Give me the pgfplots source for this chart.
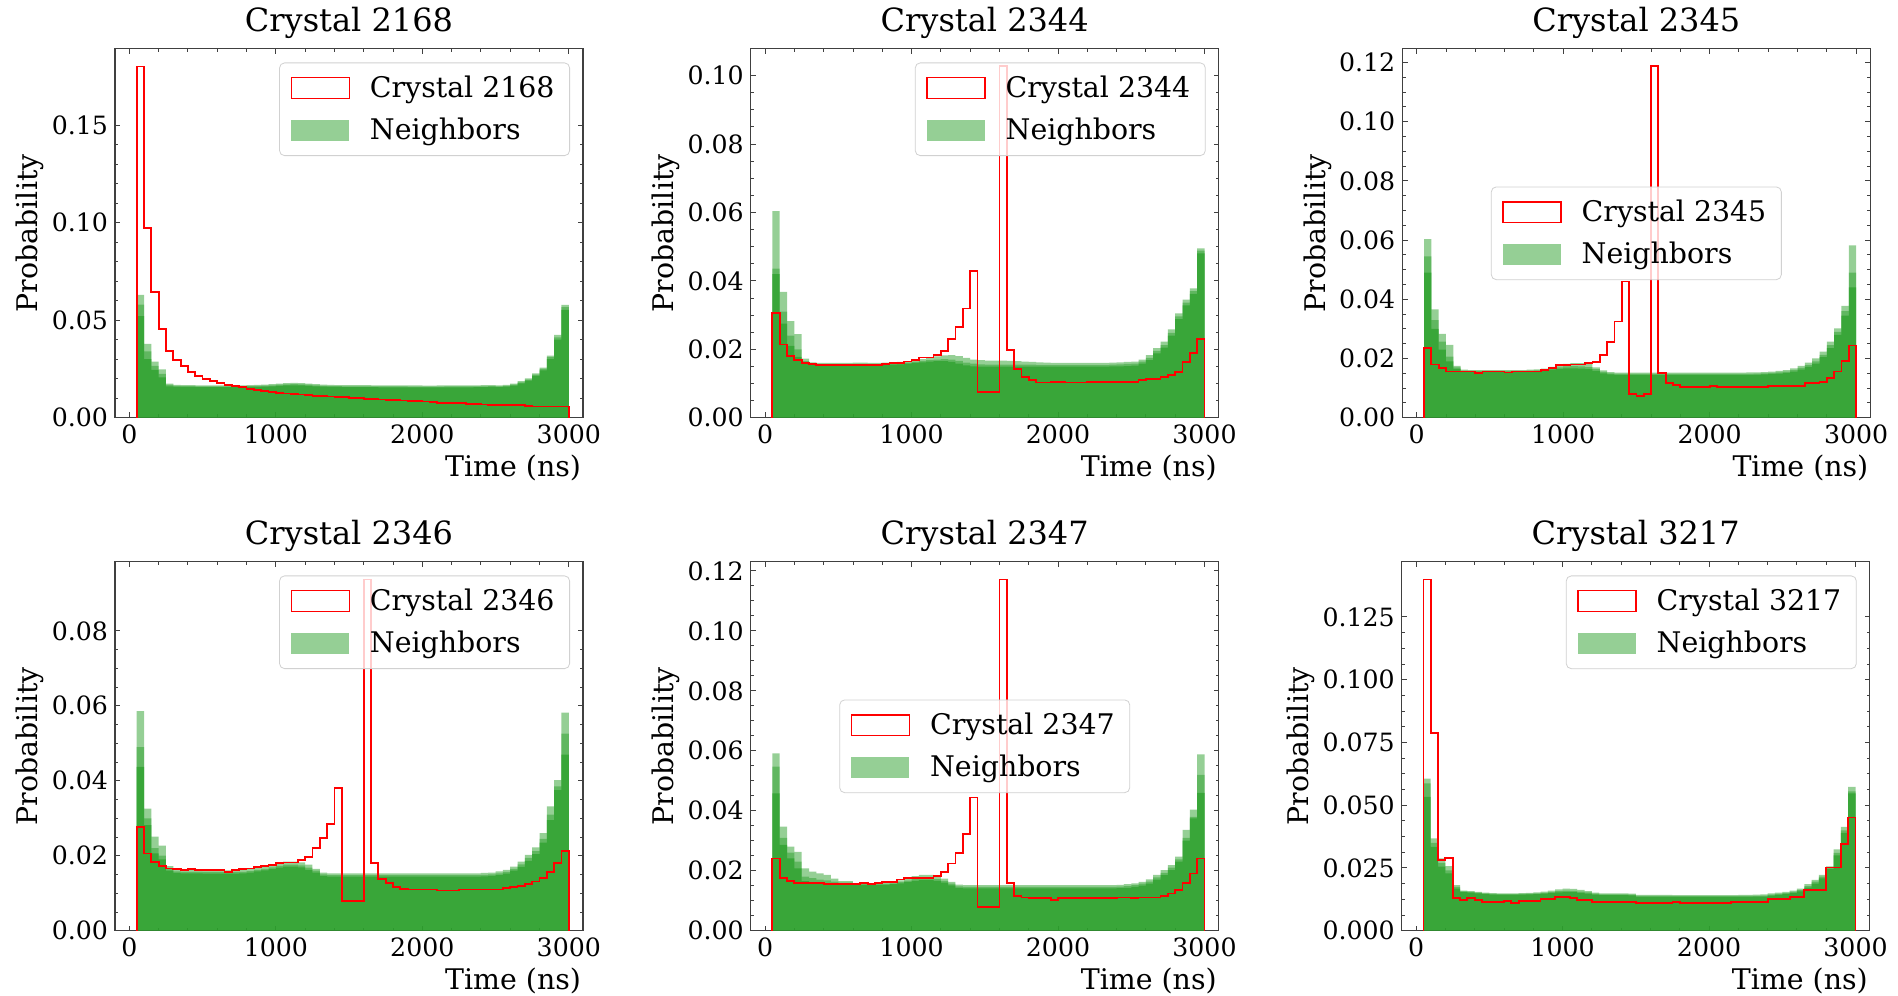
\documentclass[border=0pt]{standalone}
\usepackage{fontspec}
\setmainfont{DejaVu Serif}
\usepackage{pgfplots}
\usepackage{pgfplotstable}
\pgfplotsset{compat=1.18}

\definecolor{nbr}{HTML}{2CA02C}
\definecolor{spine}{gray}{0.25}
\newcommand\tickfont{\fontsize{12.6}{15}\selectfont}
\newcommand\labelfont{\fontsize{14.2}{17}\selectfont}
\newcommand\titlefont{\fontsize{16}{19}\selectfont}

% columns: bin left edge (ns), crystal, three neighbour histograms (top, middle, base)
\pgfplotstableread{
t r a b c
50 0 0 0 0
50 0.1800 0.0630 0.0580 0.0520
100 0.0971 0.0378 0.0340 0.0300
150 0.0644 0.0287 0.0265 0.0245
200 0.0453 0.0248 0.0225 0.0207
250 0.0343 0.0175 0.0168 0.0160
300 0.0296 0.0168 0.0163 0.0158
350 0.0265 0.0167 0.0162 0.0157
400 0.0236 0.0167 0.0162 0.0157
450 0.0214 0.0166 0.0161 0.0157
500 0.0200 0.0166 0.0161 0.0157
550 0.0188 0.0166 0.0161 0.0157
600 0.0177 0.0166 0.0161 0.0157
650 0.0168 0.0166 0.0161 0.0157
700 0.0161 0.0166 0.0161 0.0157
750 0.0156 0.0166 0.0161 0.0157
800 0.0147 0.0167 0.0162 0.0158
850 0.0142 0.0168 0.0163 0.0158
900 0.0138 0.0170 0.0164 0.0159
950 0.0133 0.0172 0.0166 0.0160
1000 0.0128 0.0175 0.0169 0.0163
1050 0.0124 0.0177 0.0171 0.0165
1100 0.0121 0.0178 0.0172 0.0166
1150 0.0119 0.0177 0.0171 0.0165
1200 0.0116 0.0175 0.0169 0.0163
1250 0.0113 0.0172 0.0166 0.0161
1300 0.0111 0.0169 0.0163 0.0159
1350 0.0109 0.0168 0.0162 0.0158
1400 0.0106 0.0167 0.0162 0.0158
1450 0.0104 0.0167 0.0161 0.0157
1500 0.0100 0.0167 0.0161 0.0157
1550 0.0099 0.0167 0.0161 0.0157
1600 0.0097 0.0167 0.0161 0.0157
1650 0.0095 0.0166 0.0161 0.0157
1700 0.0093 0.0166 0.0160 0.0156
1750 0.0092 0.0166 0.0160 0.0156
1800 0.0090 0.0165 0.0160 0.0156
1850 0.0088 0.0165 0.0160 0.0156
1900 0.0086 0.0165 0.0159 0.0155
1950 0.0085 0.0165 0.0159 0.0155
2000 0.0083 0.0164 0.0159 0.0155
2050 0.0079 0.0164 0.0159 0.0155
2100 0.0077 0.0165 0.0159 0.0155
2150 0.0076 0.0165 0.0160 0.0155
2200 0.0075 0.0165 0.0160 0.0156
2250 0.0074 0.0166 0.0160 0.0156
2300 0.0070 0.0166 0.0161 0.0156
2350 0.0069 0.0166 0.0161 0.0157
2400 0.0068 0.0167 0.0161 0.0157
2450 0.0067 0.0167 0.0162 0.0158
2500 0.0066 0.0166 0.0161 0.0157
2550 0.0066 0.0168 0.0163 0.0159
2600 0.0065 0.0174 0.0169 0.0164
2650 0.0065 0.0187 0.0181 0.0176
2700 0.0058 0.0201 0.0195 0.0190
2750 0.0057 0.0227 0.0221 0.0214
2800 0.0057 0.0257 0.0250 0.0242
2850 0.0057 0.0318 0.0310 0.0300
2900 0.0057 0.0425 0.0412 0.0400
2950 0.0057 0.0578 0.0566 0.0553
3000 0.0057 0.0578 0.0566 0.0553
3000 0 0 0 0
}\tA

\pgfplotstableread{
t r a b c
50 0 0 0 0
50 0.0307 0.0604 0.0436 0.0420
100 0.0214 0.0368 0.0310 0.0275
150 0.0180 0.0282 0.0240 0.0210
200 0.0168 0.0244 0.0200 0.0178
250 0.0159 0.0173 0.0165 0.0160
300 0.0156 0.0162 0.0158 0.0154
350 0.0154 0.0160 0.0156 0.0153
400 0.0154 0.0160 0.0156 0.0153
450 0.0154 0.0160 0.0156 0.0153
500 0.0154 0.0160 0.0156 0.0153
550 0.0154 0.0160 0.0156 0.0153
600 0.0154 0.0161 0.0157 0.0153
650 0.0154 0.0161 0.0157 0.0153
700 0.0153 0.0160 0.0156 0.0153
750 0.0154 0.0160 0.0156 0.0153
800 0.0156 0.0161 0.0157 0.0154
850 0.0159 0.0162 0.0158 0.0155
900 0.0159 0.0163 0.0159 0.0156
950 0.0164 0.0165 0.0161 0.0158
1000 0.0168 0.0168 0.0163 0.0160
1050 0.0176 0.0171 0.0166 0.0162
1100 0.0176 0.0175 0.0168 0.0164
1150 0.0183 0.0179 0.0170 0.0165
1200 0.0196 0.0182 0.0171 0.0165
1250 0.0229 0.0183 0.0170 0.0163
1300 0.0264 0.0180 0.0166 0.0158
1350 0.0319 0.0175 0.0161 0.0153
1400 0.0428 0.0170 0.0158 0.0150
1450 0.0076 0.0168 0.0156 0.0149
1500 0.0076 0.0167 0.0155 0.0149
1550 0.0076 0.0167 0.0155 0.0149
1600 0.1027 0.0167 0.0155 0.0149
1650 0.0198 0.0166 0.0155 0.0149
1700 0.0142 0.0165 0.0155 0.0149
1750 0.0120 0.0164 0.0155 0.0149
1800 0.0110 0.0163 0.0155 0.0149
1850 0.0103 0.0162 0.0154 0.0149
1900 0.0103 0.0161 0.0154 0.0149
1950 0.0105 0.0160 0.0154 0.0149
2000 0.0105 0.0160 0.0154 0.0149
2050 0.0103 0.0160 0.0154 0.0149
2100 0.0103 0.0160 0.0154 0.0149
2150 0.0103 0.0160 0.0154 0.0149
2200 0.0105 0.0160 0.0154 0.0149
2250 0.0105 0.0160 0.0154 0.0149
2300 0.0105 0.0160 0.0154 0.0149
2350 0.0105 0.0161 0.0155 0.0150
2400 0.0105 0.0162 0.0156 0.0150
2450 0.0105 0.0163 0.0157 0.0151
2500 0.0105 0.0164 0.0158 0.0152
2550 0.0110 0.0170 0.0164 0.0158
2600 0.0113 0.0183 0.0175 0.0168
2650 0.0113 0.0203 0.0195 0.0188
2700 0.0120 0.0222 0.0212 0.0205
2750 0.0125 0.0258 0.0248 0.0240
2800 0.0134 0.0305 0.0296 0.0288
2850 0.0162 0.0345 0.0336 0.0328
2900 0.0188 0.0378 0.0370 0.0362
2950 0.0229 0.0495 0.0488 0.0480
3000 0.0229 0.0495 0.0488 0.0480
3000 0 0 0 0
}\tB

\pgfplotstableread{
t r a b c
50 0 0 0 0
50 0.0235 0.0603 0.0545 0.0490
100 0.0180 0.0366 0.0330 0.0300
150 0.0167 0.0283 0.0257 0.0230
200 0.0156 0.0246 0.0206 0.0190
250 0.0156 0.0175 0.0170 0.0165
300 0.0156 0.0162 0.0159 0.0155
350 0.0156 0.0161 0.0158 0.0155
400 0.0152 0.0161 0.0158 0.0155
450 0.0156 0.0161 0.0158 0.0155
500 0.0156 0.0161 0.0158 0.0155
550 0.0156 0.0161 0.0158 0.0155
600 0.0153 0.0161 0.0158 0.0155
650 0.0156 0.0161 0.0158 0.0155
700 0.0156 0.0161 0.0158 0.0155
750 0.0156 0.0162 0.0159 0.0156
800 0.0156 0.0163 0.0160 0.0157
850 0.0161 0.0166 0.0162 0.0159
900 0.0169 0.0172 0.0166 0.0162
950 0.0178 0.0178 0.0170 0.0165
1000 0.0178 0.0182 0.0173 0.0167
1050 0.0180 0.0184 0.0174 0.0167
1100 0.0180 0.0184 0.0173 0.0166
1150 0.0184 0.0182 0.0171 0.0164
1200 0.0189 0.0170 0.0164 0.0158
1250 0.0212 0.0160 0.0155 0.0150
1300 0.0257 0.0154 0.0150 0.0146
1350 0.0325 0.0152 0.0148 0.0144
1400 0.0460 0.0152 0.0148 0.0144
1450 0.0080 0.0152 0.0148 0.0144
1500 0.0073 0.0152 0.0148 0.0144
1550 0.0079 0.0152 0.0148 0.0144
1600 0.1187 0.0152 0.0148 0.0144
1650 0.0150 0.0152 0.0148 0.0144
1700 0.0116 0.0152 0.0148 0.0144
1750 0.0110 0.0152 0.0148 0.0144
1800 0.0105 0.0152 0.0148 0.0144
1850 0.0105 0.0152 0.0148 0.0144
1900 0.0105 0.0152 0.0148 0.0144
1950 0.0105 0.0152 0.0148 0.0144
2000 0.0108 0.0152 0.0148 0.0144
2050 0.0105 0.0152 0.0148 0.0144
2100 0.0105 0.0152 0.0148 0.0144
2150 0.0105 0.0152 0.0148 0.0144
2200 0.0105 0.0152 0.0148 0.0144
2250 0.0105 0.0153 0.0148 0.0144
2300 0.0105 0.0153 0.0149 0.0145
2350 0.0105 0.0154 0.0150 0.0146
2400 0.0108 0.0156 0.0151 0.0147
2450 0.0108 0.0158 0.0153 0.0149
2500 0.0108 0.0161 0.0156 0.0151
2550 0.0108 0.0167 0.0161 0.0156
2600 0.0108 0.0175 0.0168 0.0162
2650 0.0116 0.0186 0.0178 0.0172
2700 0.0116 0.0200 0.0190 0.0183
2750 0.0120 0.0223 0.0212 0.0205
2800 0.0133 0.0257 0.0245 0.0235
2850 0.0156 0.0302 0.0290 0.0280
2900 0.0192 0.0378 0.0360 0.0345
2950 0.0244 0.0582 0.0490 0.0440
3000 0.0244 0.0582 0.0490 0.0440
3000 0 0 0 0
}\tC

\pgfplotstableread{
t r a b c
50 0 0 0 0
50 0.0277 0.0586 0.0490 0.0437
100 0.0206 0.0326 0.0300 0.0282
150 0.0184 0.0251 0.0220 0.0206
200 0.0172 0.0227 0.0200 0.0190
250 0.0166 0.0172 0.0165 0.0160
300 0.0164 0.0163 0.0158 0.0154
350 0.0162 0.0162 0.0157 0.0153
400 0.0164 0.0162 0.0157 0.0153
450 0.0162 0.0162 0.0157 0.0153
500 0.0162 0.0161 0.0156 0.0152
550 0.0162 0.0161 0.0156 0.0152
600 0.0162 0.0161 0.0156 0.0152
650 0.0157 0.0161 0.0156 0.0152
700 0.0162 0.0161 0.0156 0.0152
750 0.0164 0.0162 0.0157 0.0153
800 0.0166 0.0164 0.0159 0.0155
850 0.0171 0.0167 0.0162 0.0158
900 0.0173 0.0171 0.0165 0.0161
950 0.0175 0.0176 0.0169 0.0164
1000 0.0180 0.0181 0.0173 0.0168
1050 0.0182 0.0184 0.0176 0.0171
1100 0.0182 0.0184 0.0176 0.0171
1150 0.0188 0.0182 0.0174 0.0169
1200 0.0197 0.0176 0.0168 0.0162
1250 0.0220 0.0165 0.0160 0.0155
1300 0.0248 0.0155 0.0150 0.0146
1350 0.0284 0.0153 0.0148 0.0144
1400 0.0380 0.0153 0.0148 0.0144
1450 0.0080 0.0153 0.0148 0.0144
1500 0.0080 0.0153 0.0148 0.0144
1550 0.0080 0.0153 0.0148 0.0144
1600 0.0937 0.0153 0.0148 0.0144
1650 0.0181 0.0153 0.0148 0.0144
1700 0.0137 0.0153 0.0148 0.0144
1750 0.0128 0.0153 0.0148 0.0144
1800 0.0117 0.0153 0.0148 0.0144
1850 0.0111 0.0153 0.0148 0.0144
1900 0.0110 0.0153 0.0148 0.0144
1950 0.0110 0.0153 0.0148 0.0144
2000 0.0110 0.0153 0.0148 0.0144
2050 0.0110 0.0153 0.0148 0.0144
2100 0.0107 0.0153 0.0148 0.0144
2150 0.0107 0.0153 0.0148 0.0144
2200 0.0107 0.0153 0.0148 0.0144
2250 0.0110 0.0153 0.0148 0.0144
2300 0.0110 0.0153 0.0148 0.0144
2350 0.0110 0.0153 0.0148 0.0144
2400 0.0110 0.0154 0.0149 0.0145
2450 0.0110 0.0155 0.0150 0.0146
2500 0.0110 0.0158 0.0153 0.0148
2550 0.0113 0.0162 0.0157 0.0152
2600 0.0117 0.0171 0.0165 0.0160
2650 0.0120 0.0184 0.0177 0.0170
2700 0.0124 0.0202 0.0194 0.0186
2750 0.0131 0.0222 0.0212 0.0204
2800 0.0140 0.0260 0.0245 0.0235
2850 0.0157 0.0332 0.0310 0.0295
2900 0.0180 0.0402 0.0385 0.0375
2950 0.0212 0.0582 0.0526 0.0470
3000 0.0212 0.0582 0.0526 0.0470
3000 0 0 0 0
}\tD

\pgfplotstableread{
t r a b c
50 0 0 0 0
50 0.0241 0.0591 0.0547 0.0458
100 0.0177 0.0347 0.0310 0.0286
150 0.0167 0.0280 0.0260 0.0241
200 0.0160 0.0263 0.0230 0.0208
250 0.0160 0.0208 0.0180 0.0165
300 0.0160 0.0197 0.0175 0.0162
350 0.0160 0.0191 0.0170 0.0160
400 0.0156 0.0186 0.0168 0.0158
450 0.0156 0.0174 0.0164 0.0156
500 0.0156 0.0165 0.0160 0.0155
550 0.0156 0.0165 0.0160 0.0155
600 0.0156 0.0158 0.0155 0.0152
650 0.0160 0.0158 0.0155 0.0152
700 0.0156 0.0158 0.0155 0.0152
750 0.0160 0.0158 0.0155 0.0152
800 0.0163 0.0160 0.0156 0.0153
850 0.0163 0.0163 0.0158 0.0155
900 0.0171 0.0168 0.0162 0.0158
950 0.0177 0.0175 0.0167 0.0162
1000 0.0177 0.0182 0.0172 0.0166
1050 0.0177 0.0186 0.0175 0.0169
1100 0.0177 0.0186 0.0175 0.0169
1150 0.0182 0.0182 0.0172 0.0166
1200 0.0197 0.0174 0.0166 0.0160
1250 0.0224 0.0163 0.0157 0.0151
1300 0.0258 0.0154 0.0148 0.0143
1350 0.0322 0.0152 0.0146 0.0141
1400 0.0444 0.0152 0.0146 0.0141
1450 0.0078 0.0152 0.0146 0.0141
1500 0.0078 0.0152 0.0146 0.0141
1550 0.0078 0.0152 0.0146 0.0141
1600 0.1171 0.0152 0.0146 0.0141
1650 0.0160 0.0152 0.0146 0.0141
1700 0.0116 0.0152 0.0146 0.0141
1750 0.0111 0.0152 0.0146 0.0141
1800 0.0108 0.0152 0.0146 0.0141
1850 0.0108 0.0152 0.0146 0.0141
1900 0.0108 0.0152 0.0146 0.0141
1950 0.0102 0.0152 0.0146 0.0141
2000 0.0108 0.0152 0.0146 0.0141
2050 0.0108 0.0152 0.0146 0.0141
2100 0.0108 0.0152 0.0146 0.0141
2150 0.0108 0.0152 0.0146 0.0141
2200 0.0108 0.0152 0.0146 0.0141
2250 0.0108 0.0152 0.0146 0.0141
2300 0.0108 0.0152 0.0146 0.0141
2350 0.0108 0.0152 0.0146 0.0141
2400 0.0111 0.0153 0.0147 0.0142
2450 0.0111 0.0155 0.0149 0.0143
2500 0.0108 0.0158 0.0152 0.0146
2550 0.0111 0.0163 0.0157 0.0150
2600 0.0111 0.0171 0.0164 0.0157
2650 0.0111 0.0186 0.0178 0.0170
2700 0.0116 0.0202 0.0193 0.0185
2750 0.0124 0.0219 0.0210 0.0202
2800 0.0136 0.0247 0.0238 0.0230
2850 0.0158 0.0336 0.0310 0.0300
2900 0.0191 0.0404 0.0380 0.0375
2950 0.0241 0.0588 0.0520 0.0460
3000 0.0241 0.0588 0.0520 0.0460
3000 0 0 0 0
}\tE

\pgfplotstableread{
t r a b c
50 0 0 0 0
50 0.1399 0.0606 0.0587 0.0533
100 0.0788 0.0368 0.0350 0.0334
150 0.0281 0.0288 0.0270 0.0255
200 0.0288 0.0257 0.0240 0.0228
250 0.0129 0.0182 0.0175 0.0168
300 0.0122 0.0160 0.0157 0.0154
350 0.0129 0.0158 0.0155 0.0152
400 0.0122 0.0155 0.0152 0.0149
450 0.0115 0.0152 0.0149 0.0146
500 0.0115 0.0150 0.0147 0.0144
550 0.0115 0.0149 0.0146 0.0143
600 0.0119 0.0149 0.0146 0.0143
650 0.0111 0.0149 0.0146 0.0143
700 0.0119 0.0150 0.0147 0.0144
750 0.0119 0.0151 0.0148 0.0145
800 0.0119 0.0153 0.0149 0.0146
850 0.0125 0.0156 0.0151 0.0148
900 0.0125 0.0160 0.0154 0.0150
950 0.0135 0.0165 0.0158 0.0153
1000 0.0135 0.0168 0.0160 0.0155
1050 0.0129 0.0167 0.0159 0.0154
1100 0.0122 0.0163 0.0156 0.0151
1150 0.0122 0.0158 0.0153 0.0148
1200 0.0115 0.0152 0.0148 0.0144
1250 0.0115 0.0149 0.0145 0.0142
1300 0.0115 0.0149 0.0145 0.0142
1350 0.0115 0.0149 0.0145 0.0142
1400 0.0115 0.0149 0.0145 0.0142
1450 0.0115 0.0148 0.0144 0.0141
1500 0.0109 0.0143 0.0139 0.0135
1550 0.0109 0.0143 0.0139 0.0135
1600 0.0109 0.0143 0.0139 0.0135
1650 0.0109 0.0143 0.0139 0.0135
1700 0.0109 0.0143 0.0139 0.0135
1750 0.0113 0.0142 0.0138 0.0135
1800 0.0109 0.0142 0.0138 0.0135
1850 0.0109 0.0142 0.0138 0.0135
1900 0.0109 0.0142 0.0138 0.0135
1950 0.0109 0.0142 0.0138 0.0135
2000 0.0109 0.0142 0.0138 0.0135
2050 0.0109 0.0142 0.0138 0.0135
2100 0.0109 0.0142 0.0138 0.0135
2150 0.0113 0.0142 0.0138 0.0135
2200 0.0113 0.0143 0.0139 0.0135
2250 0.0113 0.0143 0.0139 0.0135
2300 0.0113 0.0144 0.0139 0.0136
2350 0.0113 0.0145 0.0140 0.0136
2400 0.0125 0.0149 0.0144 0.0140
2450 0.0125 0.0152 0.0147 0.0143
2500 0.0125 0.0155 0.0150 0.0146
2550 0.0135 0.0160 0.0155 0.0150
2600 0.0135 0.0168 0.0162 0.0157
2650 0.0162 0.0186 0.0178 0.0172
2700 0.0162 0.0202 0.0195 0.0188
2750 0.0162 0.0222 0.0215 0.0208
2800 0.0252 0.0256 0.0250 0.0245
2850 0.0252 0.0324 0.0310 0.0300
2900 0.0345 0.0414 0.0400 0.0390
2950 0.0451 0.0573 0.0555 0.0547
3000 0.0451 0.0573 0.0555 0.0547
3000 0 0 0 0
}\tF

\pgfplotsset{
  panel/.style={
    scale only axis, width=234pt, height=184.4pt,
    xmin=-98, xmax=3097, ymin=0,
    xtick={0,1000,2000,3000}, minor x tick num=4,
    tick align=inside, xtick pos=both, ytick pos=both,
    major tick length=2.6pt, minor tick length=1.6pt,
    every tick/.append style={spine, line width=0.45pt},
    axis line style={spine, line width=0.6pt},
    scaled x ticks=false, scaled y ticks=false,
    /pgf/number format/assume math mode=true,
    tick label style={font=\tickfont},
    xticklabel style={/pgf/number format/1000 sep={}},
    yticklabel style={/pgf/number format/fixed, /pgf/number format/fixed zerofill, /pgf/number format/precision=2},
    title style={font=\titlefont, anchor=base, yshift=2.7pt},
    xlabel={Time (ns)}, ylabel={Probability},
    label style={font=\labelfont},
    ylabel shift=-3pt,
    xlabel style={at={(ticklabel cs:1)}, anchor=north east, inner xsep=0.8pt, inner ysep=2pt},
    legend cell align=left,
    legend style={draw=black!18, rounded corners=2.5pt, fill=white, fill opacity=0.8,
      text opacity=1, draw opacity=1, font=\labelfont, inner xsep=5.5pt, inner ysep=4.5pt,
      row sep=4.8pt, column sep=8pt, nodes={inner sep=2pt}},
    legend image code/.code={\draw[red, line width=0.7pt, fill=white, sharp corners] (0pt,-5.2pt) rectangle (29pt,5.2pt);},
  },
  topright/.style={legend style={at={(1,1)}, anchor=north east, xshift=-6.5pt, yshift=-6.8pt}},
  middle/.style={legend style={at={(0.5,0.5)}, anchor=center}},
  nb/.style={const plot, draw=none, fill=nbr, fill opacity=0.5, forget plot},
  nbbase/.style={const plot, draw=none, fill=nbr, fill opacity=0.75, forget plot},
  crys/.style={const plot, draw=red, line width=0.9pt},
  nbleg/.style={legend image code/.code={\path[draw=none, fill=nbr, fill opacity=0.5, sharp corners] (0pt,-5.2pt) rectangle (29pt,5.2pt);}},
}

\begin{document}
\begin{tikzpicture}
\useasboundingbox (0,0) rectangle (949pt,497.5pt);

\begin{axis}[panel, topright, at={(57.5pt,288.65pt)}, title={Crystal 2168},
  ymax=0.189, ytick={0,0.05,0.10,0.15}, minor y tick num=4]
\addplot[nb] table[x=t,y=a]{\tA} \closedcycle;
\addplot[nb] table[x=t,y=b]{\tA} \closedcycle;
\addplot[nbbase] table[x=t,y=c]{\tA} \closedcycle;
\addplot[crys] table[x=t,y=r]{\tA};
\addlegendentry{Crystal 2168}
\addlegendimage{nbleg}
\addlegendentry{Neighbors}
\end{axis}

\begin{axis}[panel, topright, at={(375.35pt,288.65pt)}, title={Crystal 2344},
  ymax=0.1078, ytick={0,0.02,...,0.10}, minor y tick num=3]
\addplot[nb] table[x=t,y=a]{\tB} \closedcycle;
\addplot[nb] table[x=t,y=b]{\tB} \closedcycle;
\addplot[nbbase] table[x=t,y=c]{\tB} \closedcycle;
\addplot[crys] table[x=t,y=r]{\tB};
\addlegendentry{Crystal 2344}
\addlegendimage{nbleg}
\addlegendentry{Neighbors}
\end{axis}

\begin{axis}[panel, middle, at={(701.15pt,288.65pt)}, title={Crystal 2345},
  ymax=0.1246, ytick={0,0.02,...,0.12}, minor y tick num=3]
\addplot[nb] table[x=t,y=a]{\tC} \closedcycle;
\addplot[nb] table[x=t,y=b]{\tC} \closedcycle;
\addplot[nbbase] table[x=t,y=c]{\tC} \closedcycle;
\addplot[crys] table[x=t,y=r]{\tC};
\addlegendentry{Crystal 2345}
\addlegendimage{nbleg}
\addlegendentry{Neighbors}
\end{axis}

\begin{axis}[panel, topright, at={(57.5pt,32.15pt)}, title={Crystal 2346},
  ymax=0.0984, ytick={0,0.02,...,0.08}, minor y tick num=3]
\addplot[nb] table[x=t,y=a]{\tD} \closedcycle;
\addplot[nb] table[x=t,y=b]{\tD} \closedcycle;
\addplot[nbbase] table[x=t,y=c]{\tD} \closedcycle;
\addplot[crys] table[x=t,y=r]{\tD};
\addlegendentry{Crystal 2346}
\addlegendimage{nbleg}
\addlegendentry{Neighbors}
\end{axis}

\begin{axis}[panel, middle, at={(375.35pt,32.15pt)}, title={Crystal 2347},
  ymax=0.123, ytick={0,0.02,...,0.12}, minor y tick num=3]
\addplot[nb] table[x=t,y=a]{\tE} \closedcycle;
\addplot[nb] table[x=t,y=b]{\tE} \closedcycle;
\addplot[nbbase] table[x=t,y=c]{\tE} \closedcycle;
\addplot[crys] table[x=t,y=r]{\tE};
\addlegendentry{Crystal 2347}
\addlegendimage{nbleg}
\addlegendentry{Neighbors}
\end{axis}

\begin{axis}[panel, topright, at={(700.85pt,32.15pt)}, title={Crystal 3217},
  ymax=0.1469, ytick={0,0.025,...,0.125}, minor y tick num=3,
  yticklabel style={/pgf/number format/precision=3}]
\addplot[nb] table[x=t,y=a]{\tF} \closedcycle;
\addplot[nb] table[x=t,y=b]{\tF} \closedcycle;
\addplot[nbbase] table[x=t,y=c]{\tF} \closedcycle;
\addplot[crys] table[x=t,y=r]{\tF};
\addlegendentry{Crystal 3217}
\addlegendimage{nbleg}
\addlegendentry{Neighbors}
\end{axis}
\end{tikzpicture}
\end{document}
